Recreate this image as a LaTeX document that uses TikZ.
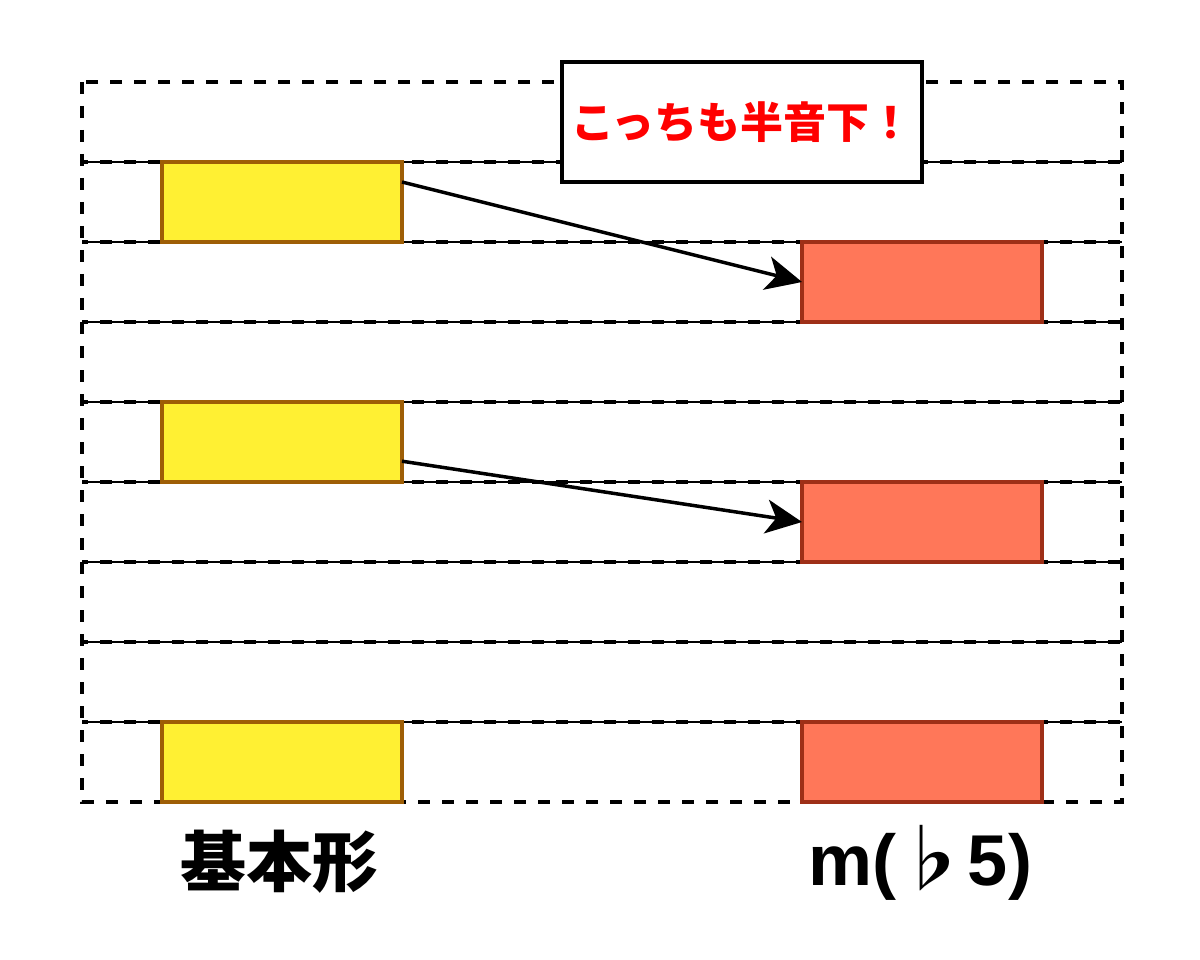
\documentclass[tikz,border=0pt]{standalone}
\usepackage{fontspec}
\setmainfont{Liberation Sans}
\newfontfamily\jp{Noto Sans CJK JP}
\usetikzlibrary{calc,arrows.meta}
\definecolor{yfill}{HTML}{FFF033}
\definecolor{ystroke}{HTML}{9E5E06}
\definecolor{rfill}{HTML}{FF7759}
\definecolor{rstroke}{HTML}{9E2F17}
\definecolor{calltext}{HTML}{FF0000}
\tikzset{
  rowline/.style={line width=3.2pt, dash pattern=on 12pt off 12pt},
  innerline/.style={line width=1.6pt},
  ybox/.style={draw=ystroke, fill=yfill, line width=3.5pt, minimum width=240pt, minimum height=80pt, inner sep=0pt, outer sep=0pt},
  rbox/.style={draw=rstroke, fill=rfill, line width=3.5pt, minimum width=240pt, minimum height=80pt, inner sep=0pt, outer sep=0pt},
  callbox/.style={draw=black, fill=white, line width=3.5pt, minimum width=360pt, minimum height=120pt, inner sep=0pt, text=calltext, font=\jp\bfseries\fontsize{43}{48}\selectfont},
  conn/.style={line width=3.5pt, -{Stealth[length=36pt, width=34pt, inset=10pt]}},
  lbl/.style={inner sep=0pt, anchor=base}
}
\begin{document}
\begin{tikzpicture}[x=1pt, y=-1pt]
\useasboundingbox (0,0) rectangle (1200,960);
\fill[white] (0,0) rectangle (1200,960);
% rows
\foreach \yy in {162,242,...,722} {
  \draw[innerline] (82,\yy) -- (1122,\yy);
  \draw[rowline, dash phase=6pt] (82,\yy) -- (1122,\yy);
}
\draw[rowline] (82,82) rectangle (1122,802);
% boxes
\node[ybox] (y1) at (282,202) {};
\node[ybox] (y2) at (282,442) {};
\node[ybox] (y3) at (282,762) {};
\node[rbox] (r1) at (922,282) {};
\node[rbox] (r2) at (922,522) {};
\node[rbox] (r3) at (922,762) {};
% callout
\node[callbox] (call) at (742,122) {こっちも半音下！};
% arrows
\draw[conn] ($(y1.north east)!0.25!(y1.south east)$) -- (r1.west);
\draw[conn] ($(y2.north east)!0.74!(y2.south east)$) -- (r2.west);
% labels
\node[lbl, font=\jp\bfseries\fontsize{66}{78}\selectfont] (lb1) at (279,886) {基本形};
\node[lbl, font=\bfseries\fontsize{72}{84}\selectfont] (lb2) at (920,885) {m({\jp ♭}5)};
\end{tikzpicture}
\end{document}
